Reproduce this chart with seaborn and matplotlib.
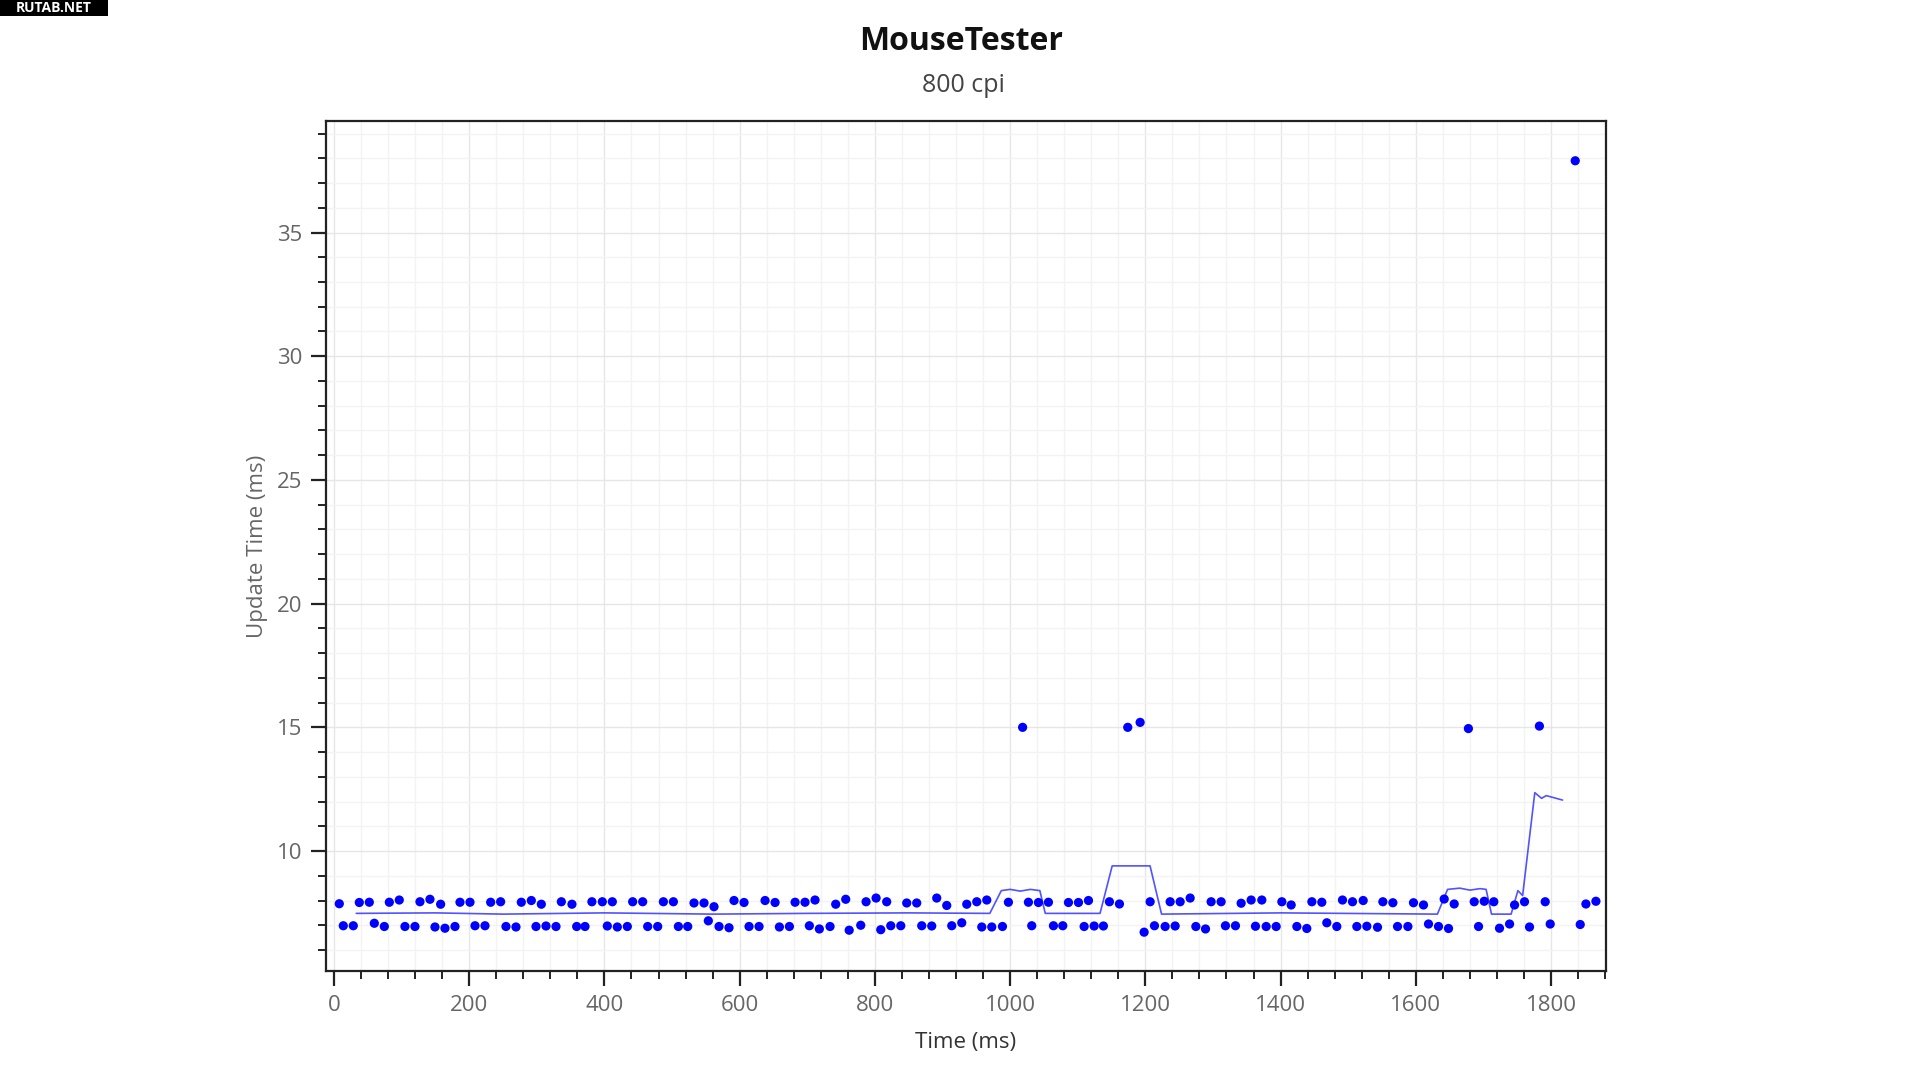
import seaborn as sns
import matplotlib.pyplot as plt
import pandas as pd
from matplotlib.ticker import MultipleLocator
from matplotlib.patches import Rectangle

# ----------------------------
# Data
# ----------------------------
event_time = [
    7.9, 13.8, 28.6, 37.5, 52.3, 59.7, 74.5, 81.9, 96.6, 105.0,
    119.8, 127.2, 142.0, 149.4, 157.8, 164.2, 179.0, 186.4, 201.2, 208.6,
    223.4, 231.8, 246.5, 254.4, 269.2, 277.1, 291.9, 298.8, 306.7, 313.6,
    328.4, 336.3, 352.0, 359.0, 371.3, 381.5,
    396.9, 404.3, 411.7, 419.1, 433.9, 441.8, 456.6, 464.0, 478.8, 487.2,
    502.0, 509.4, 523.2, 532.5, 547.3, 553.7, 562.1, 569.5, 584.3, 591.7,
    606.5, 613.9, 628.7, 637.6, 652.4, 658.8, 673.6, 682.0, 696.7, 703.1,
    711.5, 717.9, 733.7, 742.1, 756.9, 762.0,
    779.1, 787.0, 801.8, 808.7, 817.5, 823.5, 838.3, 847.1, 861.9, 869.3,
    884.1, 891.5, 906.3, 913.7, 928.5, 935.9, 950.7, 958.1, 965.5, 972.9,
    988.7, 997.5, 1018.5, 1027.1, 1032.0, 1041.9, 1056.7, 1064.1, 1077.9, 1086.3,
    1101.1, 1109.5, 1115.9, 1124.3, 1138.0,
    1146.9, 1161.7, 1174.0, 1192.3, 1198.2, 1207.1, 1213.5, 1229.3, 1236.7, 1244.1,
    1251.5, 1266.3, 1274.7, 1289.0, 1297.3, 1312.1, 1318.5, 1333.3, 1341.7, 1356.5,
    1362.9, 1372.3, 1378.7, 1393.5, 1401.9, 1415.7, 1424.1, 1438.8, 1446.3, 1461.0,
    1468.4, 1483.2, 1491.6, 1506.4, 1512.8, 1522.2, 1527.6,
    1543.4, 1551.3, 1566.1, 1573.0, 1588.3, 1596.6, 1611.4, 1618.8, 1633.6, 1642.0,
    1648.4, 1656.8, 1677.8, 1686.4, 1692.8, 1701.2, 1715.4, 1723.8, 1738.7, 1746.1,
    1760.8, 1768.2, 1782.8, 1791.4, 1798.8, 1835.8, 1843.2, 1851.6, 1866.4,
]
update_time = [
    7.87, 6.98, 6.98, 7.92, 7.93, 7.08, 6.95, 7.93, 8.02, 6.95,
    6.95, 7.95, 8.05, 6.93, 7.85, 6.88, 6.95, 7.93, 7.93, 6.98,
    6.98, 7.93, 7.95, 6.95, 6.93, 7.93, 8.00, 6.95, 7.85, 6.97,
    6.95, 7.95, 7.85, 6.95, 6.95, 7.95,
    7.95, 6.97, 7.95, 6.93, 6.95, 7.95, 7.95, 6.95, 6.95, 7.95,
    7.95, 6.95, 6.95, 7.90, 7.90, 7.18, 7.75, 6.95, 6.90, 8.00,
    7.92, 6.95, 6.95, 8.00, 7.92, 6.93, 6.95, 7.93, 7.93, 6.98,
    8.02, 6.85, 6.95, 7.85, 8.05, 6.80,
    7.00, 7.95, 8.10, 6.82, 7.95, 6.98, 6.98, 7.90, 7.90, 6.98,
    6.97, 8.10, 7.80, 6.98, 7.10, 7.85, 7.95, 6.93, 8.02, 6.93,
    6.95, 7.93, 15.00, 7.93, 6.98, 7.92, 7.93, 6.98, 6.98, 7.92,
    7.92, 6.95, 8.00, 6.97, 6.97,
    7.95, 7.86, 15.00, 15.20, 6.72, 7.95, 6.98, 6.95, 7.95, 6.97,
    7.95, 8.10, 6.95, 6.85, 7.95, 7.95, 6.98, 6.98, 7.89, 8.02,
    6.96, 8.02, 6.95, 6.95, 7.95, 7.82, 6.95, 6.87, 7.95, 7.93,
    7.10, 6.95, 8.02, 7.95, 6.95, 8.00, 6.96,
    6.92, 7.95, 7.91, 6.95, 6.95, 7.91, 7.82, 7.05, 6.95, 8.06,
    6.87, 7.86, 14.95, 7.95, 6.95, 7.97, 7.95, 6.88, 7.05, 7.82,
    7.95, 6.93, 15.05, 7.95, 7.05, 37.90, 7.03, 7.86, 7.97,
]

# smoothed trace drawn as a thin line
avg_time = [
    33, 150, 250, 400, 560, 700, 850, 970, 987, 1000,
    1015, 1030, 1044, 1052, 1133, 1151, 1207, 1224, 1400, 1632,
    1647, 1665, 1680, 1695, 1704, 1712, 1741, 1751, 1758, 1776,
    1786, 1793, 1817,
]
avg_update = [
    7.48, 7.50, 7.45, 7.50, 7.45, 7.48, 7.50, 7.48, 8.40, 8.45,
    8.38, 8.45, 8.40, 7.48, 7.48, 9.40, 9.40, 7.45, 7.50, 7.45,
    8.45, 8.50, 8.42, 8.48, 8.45, 7.45, 7.45, 8.40, 8.20, 12.36,
    12.13, 12.24, 12.06,
]

points = pd.DataFrame({"time": event_time, "update": update_time})
trace = pd.DataFrame({"time": avg_time, "update": avg_update})

# ----------------------------
# Plot
# ----------------------------
sns.set_style("white")
plt.rcParams["font.family"] = ["Open Sans", "DejaVu Sans"]

fig = plt.figure(figsize=(19.2, 10.8), dpi=100)
ax = fig.add_axes([0.1696, 0.1009, 0.6671, 0.7869])

sns.lineplot(data=trace, x="time", y="update", ax=ax, sort=False,
             estimator=None, color="#3434ff", linewidth=1.2, alpha=0.85)
sns.scatterplot(data=points, x="time", y="update", ax=ax, color="#0000ff",
                s=44, edgecolor="none", zorder=3)

ax.set_xlim(-12.3, 1882)
ax.set_ylim(5.15, 39.5)

ax.xaxis.set_major_locator(MultipleLocator(200))
ax.xaxis.set_minor_locator(MultipleLocator(40))
ax.yaxis.set_major_locator(MultipleLocator(5))
ax.yaxis.set_minor_locator(MultipleLocator(1))

ax.grid(which="major", color="#e6e6e6", linewidth=1.0)
ax.grid(which="minor", color="#f3f3f3", linewidth=1.0)
ax.set_axisbelow(True)

for side in ax.spines.values():
    side.set_color("#222222")
    side.set_linewidth(1.6)

ax.tick_params(which="major", direction="out", length=11, width=1.6,
               color="#222222", labelsize=16, labelcolor="#666666", pad=6,
               left=True, bottom=True)
ax.tick_params(which="minor", direction="out", length=6, width=1.4,
               color="#222222", left=True, bottom=True)

ax.set_xlabel("Time (ms)", fontsize=16, color="#333333", labelpad=12)
ax.set_ylabel("Update Time (ms)", fontsize=16, color="#666666", labelpad=6)

fig.text(0.5005, 1 - 42 / 1080, "MouseTester", ha="center", va="center",
         fontsize=23, fontweight="bold", color="#111111")
fig.text(0.502, 1 - 86 / 1080, "800 cpi", ha="center", va="center",
         fontsize=18, color="#444444")

# watermark in the top-left corner
fig.add_artist(Rectangle((0, 1 - 16 / 1080), 108 / 1920, 16 / 1080,
                         transform=fig.transFigure, facecolor="black",
                         edgecolor="none"))
fig.text(54 / 1920, 1 - 8 / 1080, "RUTAB.NET", ha="center", va="center",
         fontsize=10, fontweight="bold", color="white")

plt.savefig("out.png", dpi=100)
plt.close()
